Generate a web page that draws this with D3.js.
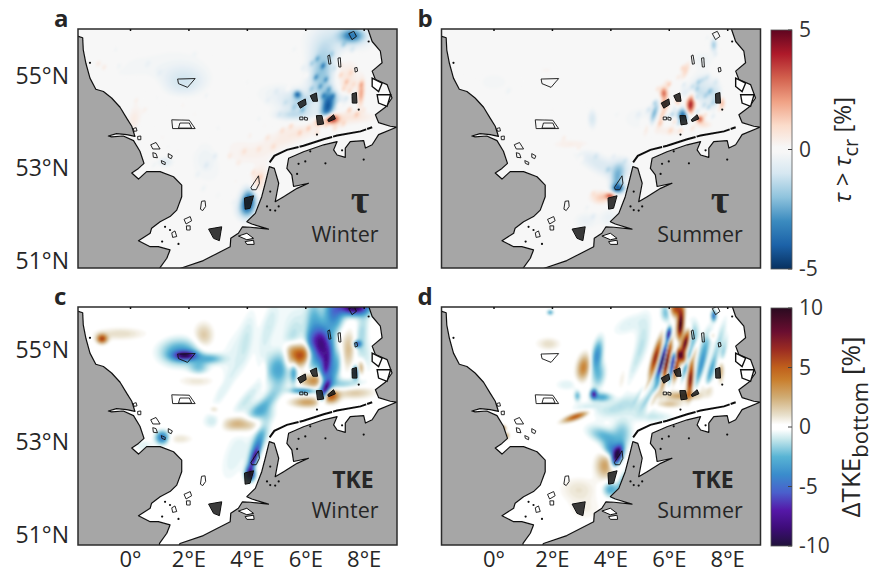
<!DOCTYPE html>
<html>
<head>
<meta charset="utf-8">
<script src="https://cdnjs.cloudflare.com/ajax/libs/d3/7.8.5/d3.min.js"></script>
<style>
  html, body { margin: 0; padding: 0; background: #fff; }
  svg { display: block; }
  text { font-family: "Open Sans", sans-serif; fill: #262626; }
</style>
</head>
<body>
<script>
var w = 892, h = 575;

// coastlines as [lon, lat]
var landUK = [[-1.9,55.87],[-1.77,55.87],[-1.62,55.84],[-1.6,55.58],[-1.51,55.29],[-1.37,54.97],[-1.17,54.73],[-0.91,54.68],[-0.63,54.54],[-0.34,54.34],[-0.11,54.1],[0.06,53.93],[0.17,53.71],[-0.11,53.75],[-0.46,53.77],[-0.74,53.72],[-0.63,53.7],[-0.23,53.72],[0.12,53.62],[0.34,53.39],[0.48,53.13],[0.29,53.02],[0.06,52.92],[0.29,52.79],[0.57,52.95],[1.03,52.95],[1.49,52.84],[1.77,52.66],[1.77,52.41],[1.6,52.12],[1.37,51.98],[1.03,51.87],[0.74,51.73],[0.69,51.62],[0.29,51.46],[0.69,51.33],[0.97,51.33],[1.37,51.26],[1.26,51.08],[1.01,50.86],[1.0,50.7],[-1.9,50.7]];
var landCont = [[1.71,50.86],[2.51,51.03],[3.43,51.33],[3.45,51.51],[3.71,51.62],[3.85,51.76],[4.12,51.75],[4.74,51.71],[4.17,51.82],[4,51.87],[4.29,52.05],[4.51,52.41],[4.63,52.7],[4.77,53.06],[4.94,53.02],[5.09,52.7],[4.97,52.3],[5.26,52.41],[5.72,52.59],[6.11,52.7],[5.6,52.63],[5.54,52.88],[5.37,53.02],[5.43,53.24],[5.94,53.38],[6.63,53.53],[7.09,53.6],[6.97,53.42],[7.09,53.31],[7.37,53.26],[7.37,53.46],[7.54,53.6],[8,53.62],[8.06,53.46],[8.29,53.53],[8.51,53.75],[9.12,53.91],[8.91,53.93],[8.51,54.01],[8.4,54.18],[8.74,54.34],[8.97,54.54],[8.8,54.83],[8.4,54.94],[8.29,55.12],[8.63,55.3],[8.57,55.55],[8.29,55.76],[8.15,56.02],[8.1,56.2],[9.4,56.2],[9.4,50.7],[1.6,50.7]];
var barrierIslands = [[4.78,53.15],[4.94,53.29],[5.37,53.42],[5.94,53.51],[6.63,53.65],[7.09,53.73],[7.89,53.82],[8.29,53.91]];
var coastIslands = [
  [[8.29,54.97],[8.63,54.86],[8.51,54.68],[8.29,54.79]],
  [[8.46,54.61],[8.92,54.61],[8.8,54.36],[8.51,54.43]]
];
var estuaries = [
  [[3.71,51.56],[4,51.62],[4.23,51.51],[4,51.48]],
  [[3.94,51.44],[4.23,51.47],[4.25,51.38],[4,51.38]]
];
var coastDots = [[6.69,53.13],[8,53.21],[7.26,53.41],[6.17,53.39],[6,53.17],[5.77,53.12],[4.8,52.52],[4.69,52.2],[4.97,52.11],[5.09,52.2],[4.8,52.12],[6.4,53.75],[7.83,54.29],[-1.37,55.3],[8.17,55.76],[1.37,51.69],[1.2,51.76],[1.1,51.44],[1.66,51.39],[5.72,52.9]];

// wind farm outlines
var windFarms = [
  [[1.63,54.95],[2.23,54.96],[1.97,54.77],[1.66,54.85]],
  [[1.43,54.07],[2.03,54.06],[2.23,53.88],[1.46,53.88]],
  [[1.66,53.89],[1.71,54],[2.03,54],[2.11,53.89]],
  [[0.71,53.53],[0.89,53.58],[1.03,53.44],[0.78,53.44]],
  [[0.11,53.88],[0.21,53.9],[0.24,53.83],[0.14,53.82]],
  [[0.26,53.71],[0.37,53.72],[0.37,53.64],[0.27,53.64]],
  [[0.78,53.36],[0.89,53.34],[0.94,53.25],[0.8,53.26]],
  [[1.31,53.34],[1.45,53.29],[1.41,53.23],[1.31,53.26]],
  [[1.07,53.19],[1.21,53.15],[1.2,53.1],[1.09,53.13]],
  [[2.45,52.31],[2.57,52.32],[2.59,52.2],[2.49,52.11],[2.41,52.14]],
  [[1.85,51.92],[2.06,51.98],[2.11,51.89],[1.92,51.82]],
  [[1.93,51.78],[2.06,51.78],[2.06,51.69],[1.94,51.69]],
  [[1.43,51.63],[1.54,51.67],[1.6,51.55],[1.46,51.53]],
  [[4.14,52.61],[4.4,52.86],[4.43,52.7],[4.32,52.56],[4.17,52.56]],
  [[6.77,55.45],[6.83,55.47],[6.88,55.28],[6.81,55.27]],
  [[7.12,55.4],[7.2,55.41],[7.22,55.21],[7.15,55.21]],
  [[7.49,55.93],[7.66,55.98],[7.75,55.87],[7.6,55.8]],
  [[7.69,55.19],[7.77,55.2],[7.79,55.12],[7.71,55.1]],
  [[5.81,54.13],[5.92,54.13],[5.92,54.07],[5.81,54.07]],
  [[5.97,54.13],[6.08,54.11],[6.07,54.06],[5.97,54.07]]
];
var denseFarms = [
  [[2.69,51.71],[3.14,51.76],[3.06,51.46],[2.86,51.51]],
  [[3.92,52.38],[4.23,52.43],[4.11,52.16],[3.94,52.14]],
  [[7.6,54.63],[7.75,54.66],[7.77,54.43],[7.61,54.43]],
  [[5.74,54.43],[6,54.52],[6.03,54.4],[5.83,54.32]],
  [[6.17,54.59],[6.38,54.65],[6.42,54.47],[6.26,54.47]],
  [[6.38,54.16],[6.57,54.16],[6.63,53.98],[6.42,53.96]],
  [[6.77,54.07],[6.97,54.18],[7.03,54.09],[6.8,54.03]]
];

// anomaly patches: [lon, lat, along, across, angle, percent]
var tauWinter = [
  [6.55,55.1,0.45,0.2,85,-2],[7.6,55.9,0.2,0.12,0,-3],[7.1,55.8,0.5,0.3,0,-0.8],[6.74,54.32,0.25,0.1,80,-3.5],
  [6.17,54.36,0.4,0.2,0,-1],[5.83,54.5,0.3,0.15,0,-0.7],[5.72,54.63,0.06,0.06,0,-3],[7.09,54.54,0.25,0.15,0,-1],
  [5.49,54.18,0.25,0.08,0,-1],[7.9,54.65,0.2,0.05,85,2],[7.4,54.9,0.5,0.2,85,0.7],
  [6.4,54.43,0.15,0.15,0,1.2],[6.86,54.1,0.12,0.08,0,4.5],[6.5,54.03,0.1,0.08,0,2],[7.66,54.14,0.35,0.1,0,0.6],
  [5.94,53.85,0.5,0.15,10,0.4],[5.03,53.57,0.5,0.15,25,0.4],[3.66,53.46,0.4,0.3,0,0.4],[2.63,53.28,0.3,0.25,90,-0.4],
  [4.06,52.34,0.2,0.12,80,-4.5],[3.94,52.12,0.15,0.15,0,-1.2],[4.29,52.63,0.3,0.12,70,1.2],[1.83,54.9,0.35,0.25,0,-1.1],
  [-0.34,55.15,0.6,0.2,0,-0.3],[-0.91,55.26,0.3,0.12,0,0.4],[0.12,54.07,0.25,0.1,80,0.5],[1.2,53.17,0.12,0.08,0,-0.8],
  [0.3,54.8,0.5,0.2,0,0.2],[1.37,55.45,0.8,0.4,0,-0.2],[5.03,54.65,0.4,0.2,0,-0.4],[1.5,54.45,0.6,0.15,20,0.2],
  [2.9,52.9,0.5,0.4,0,-0.15],[2.2,52.2,0.5,0.3,0,-0.12],[3.7,53.8,0.5,0.3,0,-0.15]
];
var tauSummer = [
  [6.73,54.4,0.18,0.07,80,4.5],[5.82,54.65,0.1,0.06,90,3],[5.83,54.43,0.06,0.06,0,2],[6.5,54.18,0.12,0.1,90,-4],
  [5.47,54.2,0.2,0.05,70,-2.5],[5.78,54.2,0.2,0.05,70,1.5],[5.31,54,0.2,0.05,70,1.2],[7.13,54.72,0.25,0.2,90,-1],
  [7.6,54.58,0.2,0.1,90,-1],[6.68,54.65,0.2,0.1,0,-0.7],[7.8,54.45,0.1,0.05,90,2],[6.3,54.5,0.12,0.05,90,1.5],
  [7.05,54.1,0.06,0.06,0,3],[7.2,53.98,0.12,0.06,0,0.8],[6.57,55.15,0.15,0.05,70,1.2],[7.53,55.7,0.1,0.05,90,-1.8],
  [7.15,55.4,0.2,0.15,0,-0.4],[3.37,54.1,0.15,0.07,90,-1],[2.69,53.55,0.3,0.08,0,0.6],[3.59,53.13,0.4,0.15,-30,-0.9],
  [4.39,53.06,0.2,0.15,0,-0.7],[4.22,52.78,0.25,0.1,80,-2],[4.27,52.6,0.1,0.07,0,-3],[4,52.44,0.08,0.05,0,3.5],
  [3.66,52.4,0.15,0.1,0,1.3],[3.14,51.9,0.2,0.15,0,-0.5],[3.94,51.97,0.15,0.15,0,-0.5],[0,54.9,0.5,0.3,0,-0.25],
  [1.78,55.15,0.25,0.1,0,0.25],[0.3,53.3,0.06,0.03,90,1.5],[5.1,54.1,0.4,0.25,0,-0.35],[5.94,53.85,0.3,0.1,0,0.5]
];
var tkeWinter = [
  [6.51,55.14,0.3,0.16,90,-9],[6.69,54.64,0.35,0.08,80,-5.5],[6.69,54.2,0.18,0.06,70,-7],[7.66,55.97,0.22,0.12,0,-10],
  [6.97,55.86,0.3,0.15,90,-4.5],[6.29,55.79,0.3,0.12,90,-2],[7,54.64,0.4,0.1,75,-3],[6.17,55.07,0.3,0.08,90,-2.5],
  [5.83,54.93,0.25,0.15,25,6],[5.49,55.07,0.12,0.12,0,2.5],[6.34,54.39,0.22,0.12,0,4],[6.86,54.06,0.12,0.1,0,6],
  [6.06,53.92,0.25,0.08,0,3],[7.43,55.07,0.3,0.15,90,2.5],[7.89,54.67,0.12,0.06,90,3],[7.66,54.14,0.3,0.1,0,2],
  [7.77,55.18,0.06,0.05,0,-5],[7.71,54.57,0.1,0.05,90,-5],[5.03,54.67,0.25,0.2,90,-2.5],[5.94,54.17,0.2,0.05,0,-4],
  [5.6,54.57,0.2,0.06,90,-3],[4.57,54.57,0.18,0.05,90,1],[4.46,53.7,0.2,0.15,0,-1.5],[3.77,53.45,0.3,0.12,0,3],
  [2.86,53.49,0.15,0.12,0,-1.2],[4.23,52.69,0.2,0.05,70,-6],[4.11,52.37,0.1,0.07,90,-8],[4.29,52.9,0.3,0.08,70,-3],
  [4.51,53.27,0.3,0.12,70,-1.5],[1.89,54.93,0.18,0.07,0,-7],[1.7,55,0.3,0.2,0,-3.5],[2.74,54.86,0.2,0.08,0,-2.5],
  [2.34,54.67,0.15,0.12,0,-2],[2.51,55.36,0.2,0.15,90,1.8],[-0.97,55.29,0.08,0.07,0,6],[-0.34,55.4,0.4,0.1,0,1.2],
  [2.29,54.39,0.3,0.1,0,1],[2.86,53.77,0.08,0.06,0,1.5],[1.09,53.16,0.1,0.1,0,-5],[1.71,53.13,0.2,0.08,0,1],
  [0.46,52.98,0.15,0.1,0,-0.8],[2.51,52.04,0.2,0.15,0,0.4],[5.6,55.58,0.5,0.3,90,-0.7],[3.5,55,0.5,0.2,70,-0.6],
  [8,54.9,0.3,0.15,90,-1],[4.8,54.05,0.3,0.1,50,-1],[4,55.3,0.5,0.12,80,-0.8],[4.7,55.5,0.5,0.12,75,-0.9],
  [5.3,54.9,0.5,0.12,70,-1.3],[7.9,55.4,0.4,0.1,80,-1.5],[7.3,54.3,0.3,0.1,0,-2],[3.2,54.2,0.5,0.1,60,-0.7],
  [4,54,0.4,0.1,50,-1],[3.6,52.8,0.5,0.2,70,-0.8],[4.5,53.8,0.4,0.1,40,-1.2]
];
var tkeSummer = [
  [6.24,55.94,0.12,0.1,90,6],[6.39,55.6,0.22,0.05,85,10],[6.56,55.21,0.2,0.05,75,9],[6.39,54.93,0.15,0.07,-50,6],
  [6.22,54.67,0.2,0.05,80,7],[5.53,54.89,0.3,0.05,75,7],[5.78,54.85,0.3,0.035,75,-10],[5.91,54.78,0.35,0.04,80,9],
  [6.13,54.75,0.25,0.035,80,-9],[6.73,54.42,0.25,0.045,85,8],[5.99,55.4,0.1,0.04,80,-7],[5.45,54.42,0.3,0.04,60,-2],
  [5.24,54.28,0.25,0.04,60,2.5],[5.7,54.35,0.25,0.04,65,-2.5],[5.53,54.06,0.25,0.04,65,2],[6.81,55.36,0.25,0.1,90,-2.2],
  [5.9,55.86,0.15,0.08,90,-2.5],[7.53,55.79,0.08,0.04,90,-5],[7.2,55.07,0.35,0.08,75,-2.2],[7.07,54.64,0.3,0.05,75,-2.8],
  [7.42,54.57,0.25,0.05,75,-2.8],[7.76,54.64,0.2,0.05,90,3],[7.47,55.36,0.06,0.06,0,1.5],[7.3,54.2,0.1,0.1,0,1.5],
  [6.45,54.06,0.3,0.07,0,3],[6,53.88,0.2,0.06,0,2],[3.07,54.67,0.2,0.1,80,4],[3.53,54.93,0.25,0.08,80,-4],
  [3.42,54.1,0.07,0.05,90,-7],[3.7,54.03,0.15,0.07,0,-3],[2.86,54.06,0.08,0.05,90,-2.5],[1.88,55.18,0.18,0.1,0,1.2],
  [1.93,55.86,0.05,0.04,0,-3],[2.8,53.61,0.2,0.05,20,5.5],[3.76,53.2,0.25,0.12,-20,-2.5],[4.39,53.27,0.2,0.15,90,-2],
  [4.22,52.77,0.16,0.07,70,-10],[4.05,52.9,0.15,0.12,-40,-4],[3.82,52.55,0.2,0.15,90,3],[3.99,52.04,0.12,0.12,60,-3],
  [4.38,52.2,0.2,0.06,70,-2],[2.9,52.04,0.3,0.2,0,1],[3.14,51.6,0.3,0.2,0,0.6],[5,53.8,0.3,0.2,0,-1],
  [0.33,53.36,0.04,0.04,0,4],[0.46,53.2,0.05,0.03,90,3],[5.1,55.3,0.4,0.12,80,-1],[4.6,55.6,0.3,0.15,30,-0.8],
  [4.8,54.7,0.4,0.08,70,-0.8],[7.7,55.2,0.4,0.06,75,-1.5],[7.8,54.9,0.3,0.05,75,-2],[4.4,54.4,0.2,0.06,80,0.8],
  [4.2,53.8,0.35,0.12,30,-1],[5.6,53.6,0.3,0.08,0,-0.8],[0.8,55.3,0.3,0.15,0,0.3],[2.5,54.3,0.2,0.1,0,-0.8],
  [3.3,53.8,0.3,0.1,0,-1],[3.6,54.5,0.2,0.1,80,-2.2],[6.6,54.75,0.25,0.04,75,-3.5],[5.1,54.2,0.25,0.035,60,-1.5],
  [5.35,54.1,0.25,0.035,60,-1.5],[6.9,55,0.2,0.04,75,2]
];

// finer speckle of the bed stress panels: [lon, lat, percent]
var tauWinterSpeckle = [
  [6.2,55.3,-0.9],[6.4,55.4,-1.2],[6.6,55.25,-1.6],[6.35,55,-1.5],[6.7,54.95,-1.4],[6.5,54.8,-1.2],[6.8,54.75,-1.1],[6.2,54.75,-0.9],
  [6.6,54.6,-1.3],[6.95,54.6,-1.2],[6.3,54.55,-0.8],[7,55.2,-0.7],[6.9,55.5,-0.8],[7.3,55.7,-0.9],[7.6,55.6,-0.7],[5.9,54.3,-1.1],
  [5.6,54.35,-0.8],[5.3,54.45,-0.5],[7.2,55.05,0.9],[7.4,54.9,1],[7.55,55.1,0.7],[7.3,54.75,0.9],[7.5,54.7,0.8],[7.2,55.25,0.6],
  [7.65,54.85,0.6],[7.4,54.55,-0.8],[7.15,54.4,1],[7.5,54.3,1.2],[7.75,54.2,0.9],[8,54.3,0.5],[7.9,54.85,0.9],[5.2,53.85,0.7],
  [5.5,53.95,0.9],[5.8,53.8,0.8],[6.1,53.9,1],[6.4,53.8,0.7],[6.7,53.95,0.9],[7,53.9,0.7],[7.3,54,0.8],[4.7,53.7,0.6],
  [4.9,53.5,0.6],[4.4,53.45,0.5],[3.9,53.4,0.6],[3.4,53.3,0.5],[3.7,53.15,0.4],[4.1,53,-0.4],[4.2,52.95,0.7],[4.45,52.85,0.6],
  [-0.9,55.2,0.5],[-1.1,55.3,0.4],[-0.4,55.25,-0.3],[0.2,54.5,0.3],[0.5,54.3,0.3],[0.9,54.55,-0.3],[1.2,54.3,-0.3],[1.8,54.4,0.3],
  [2.6,54.6,-0.3],[3,53.9,-0.3],[2.2,53.5,0.3],[1.6,53.4,0.3],[0.3,53.5,-0.3],[0.8,53.1,-0.4],[2.6,53.1,-0.5],[2.9,53.3,-0.5],
  [2.3,52.9,-0.3],[3.5,52.3,-0.2],[0.6,55.3,-0.3],[2.2,55.5,-0.2],[5,54.7,-0.4],[4.7,54.5,-0.3],[5.4,54.75,0.4],[6.05,55.05,0.5],
  [3.4,55.2,-0.2],[4,54.9,-0.25],[3.1,54.7,0.2],[2.2,54.2,0.3],[2.8,53.7,0.3],[3.2,53.6,-0.3],[1.1,53.7,0.3],[0.7,54,-0.25],
  [-0.5,55.6,-0.3],[0.1,55.5,0.25],[1,55.1,-0.3],[1.3,53.5,-0.3],[2,53.1,0.3],[2.5,52.6,-0.3],[3.2,52.9,0.3],[3.6,52.75,0.4],
  [4.4,54.1,-0.35],[4.1,53.75,0.35],[5.1,54.2,-0.4],[4.6,53.95,0.3],[5.6,55.6,-0.3],[5.9,55.2,-0.4],[1.6,52.9,-0.2],[3,52.45,-0.2]
];
var tauSummerSpeckle = [
  [5.5,54.45,-1.2],[5.3,54.3,-0.9],[5.7,54,0.8],[5.9,54.15,-0.9],[6.1,54.2,-1.4],[6.3,54,-0.9],[6.05,53.85,0.8],[6.4,53.85,0.7],
  [6.8,53.9,0.7],[6.95,54.25,-1.1],[7.2,54.4,-1],[7.4,54.7,-1.2],[7,54.9,-1.1],[7.3,55,-0.8],[7.6,54.9,-0.6],[6.8,54.8,-0.9],
  [6.5,54.85,-0.7],[7.7,54.3,0.7],[7.5,54.15,-0.6],[7.25,54.2,0.8],[6.3,55,0.6],[6.45,55.2,0.9],[6.2,54.35,-0.7],[5.6,54.75,0.7],
  [5.9,54.9,0.5],[5.1,54.05,0.5],[4.95,54.2,-0.4],[7.6,55.5,-0.5],[7.3,55.85,-0.4],[7.75,55.6,0.3],[3.5,53.3,-0.6],[3.9,53,-0.7],
  [4.5,53.2,-0.6],[4.1,53.3,-0.4],[2.4,53.7,0.5],[2.9,53.45,0.5],[3,53.25,0.4],[3.4,52.5,0.5],[3.2,52.2,-0.4],[3.4,52,-0.5],
  [4.3,52.05,-0.5],[2,54.3,0.25],[0.5,54.7,-0.3],[1,54.35,0.25],[-0.7,55.5,0.25],[0.9,53.8,-0.2],[3,54.5,-0.2],[6.9,54.55,-1.3],
  [7.35,54.35,-1.2],[6.2,54.05,1.2],[6,54.85,1.4],[7.15,54.95,-0.7],[6.95,54.75,-0.9],[7.25,54.6,-0.8],[7.5,54.45,-0.8],
  [1.5,54.8,-0.2],[1.9,53.9,-0.2],[3.6,54.6,-0.25],[4.2,54.2,-0.25],[3.1,52.9,0.25],[2.6,53,-0.2],[1.3,53.2,0.2],[-0.5,55,0.2]
];

// colormaps, sampled from the colour bars
var tauStopValues = [-5,-4,-3,-2,-1,-0.1,0.1,1,2,3,4,5];
var tauStopColors = ["#08305f","#1c62a8","#3b8bbf","#8fc3dd","#d6e7f1","#f7f7f7","#f7f7f7","#fbdccb","#f0a285","#d2604d","#ae1a2a","#5f0520"];
var tkeStopValues = [-10,-8.5,-7,-5.5,-4,-2.5,-1,-0.2,0.2,1,2.5,4,5,6.5,8,10];
var tkeStopColors = ["#20123a","#3d0c78","#5518a8","#4a60cc","#3a8ccc","#58b4d4","#c8e8ec","#ffffff","#ffffff","#e8e0cc","#d0ac74","#c97e2c","#c0601c","#9c2c22","#6a0e30","#2a0a20"];

var latTicks = [51, 53, 55];
var lonTicks = [0, 2, 4, 6, 8];
var tauBarTicks = [-5, 0, 5];
var tkeBarTicks = [-10, -5, 0, 5, 10];

var lonDomain = [-1.78, 9.14], latDomain = [50.87, 56.03];
var gridStep = 0.025, gridLon0 = -1.9, gridLat0 = 56.1;
var nx = Math.round(11.2 / gridStep), ny = Math.round(5.3 / gridStep);

var tauColor = d3.scaleLinear().domain(tauStopValues).range(tauStopColors).clamp(true);
var tkeColor = d3.scaleLinear().domain(tkeStopValues).range(tkeStopColors).clamp(true);
var tauLevels = d3.range(0.1, 5, 0.12);
var tkeLevels = d3.range(0.2, 10, 0.2);

var panels = [
  { id: "a", blobs: tauWinter, speckle: tauWinterSpeckle, color: tauColor, levels: tauLevels, bg: "#f7f7f7", xr: [78, 397], dy: 0, top: 29, bottom: 268, big: "τ", season: "Winter", bigX: 360, seasonX: 345 },
  { id: "b", blobs: tauSummer, speckle: tauSummerSpeckle, color: tauColor, levels: tauLevels, bg: "#f7f7f7", xr: [441.5, 760.5], dy: 0, top: 29, bottom: 268, big: "τ", season: "Summer", bigX: 720, seasonX: 700 },
  { id: "c", blobs: tkeWinter, speckle: [], color: tkeColor, levels: tkeLevels, bg: "#ffffff", xr: [78, 397], dy: 275, top: 307, bottom: 545, big: "TKE", season: "Winter", bigX: 353, seasonX: 345 },
  { id: "d", blobs: tkeSummer, speckle: [], color: tkeColor, levels: tkeLevels, bg: "#ffffff", xr: [441.5, 760.5], dy: 275, top: 307, bottom: 545, big: "TKE", season: "Summer", bigX: 713, seasonX: 700 }
];

var svg = d3.select("body").append("svg").attr("width", w).attr("height", h);
var defs = svg.append("defs");
defs.append("filter").attr("id", "soft").append("feGaussianBlur").attr("stdDeviation", 0.8);
defs.append("filter").attr("id", "softer").append("feGaussianBlur").attr("stdDeviation", 0.35);

// sum the patches on a lon/lat grid
function buildField(blobs, speckle) {
  var values = new Float64Array(nx * ny);
  // patch sizes above are half widths, the gaussian needs them a bit wider
  var rows = blobs.map(function (b) {
    return [b[0], b[1], b[2] * 1.5, b[3] * 1.5, b[4], b[5]];
  }).concat(speckle.map(function (s) {
    return [s[0], s[1], 0.08, 0.05, 60, s[2]];
  }));
  rows.forEach(function (b) {
    var rad = (b[4] * Math.PI) / 180, c = Math.cos(rad), s = Math.sin(rad);
    for (var j = 0; j < ny; j++) {
      var dy = (gridLat0 - j * gridStep - b[1]) * 1.6;
      if (Math.abs(dy) > 3) continue;
      for (var i = 0; i < nx; i++) {
        var dx = gridLon0 + i * gridStep - b[0];
        if (Math.abs(dx) > 3) continue;
        var u = (dx * c + dy * s) / b[2], v = (-dx * s + dy * c) / b[3];
        values[j * nx + i] += b[5] * Math.exp(-0.5 * (u * u + v * v));
      }
    }
  });
  return values;
}

panels.forEach(function (p) {
  var x = d3.scaleLinear().domain(lonDomain).range(p.xr);
  var y = d3.scaleLinear().domain(latDomain).range([268 + p.dy, 29 + p.dy]);
  var frameW = p.xr[1] - p.xr[0];
  var line = d3.line().x(function (d) { return x(d[0]); }).y(function (d) { return y(d[1]); });
  var ring = d3.line().x(function (d) { return x(d[0]); }).y(function (d) { return y(d[1]); }).curve(d3.curveLinearClosed);

  defs.append("clipPath").attr("id", "clip-" + p.id).append("rect")
    .attr("x", p.xr[0]).attr("y", p.top).attr("width", frameW).attr("height", p.bottom - p.top);

  var map = svg.append("g").attr("clip-path", "url(#clip-" + p.id + ")");
  map.append("rect").attr("x", p.xr[0]).attr("y", p.top).attr("width", frameW).attr("height", p.bottom - p.top).attr("fill", p.bg);

  // field drawn as filled contours, positive and negative side separately
  var values = buildField(p.blobs, p.speckle);
  var project = d3.geoPath(d3.geoTransform({
    point: function (gx, gy) {
      this.stream.point(x(gridLon0 + gx * gridStep), y(gridLat0 - gy * gridStep));
    }
  }));
  var field = map.append("g").attr("filter", "url(#soft)");
  [1, -1].forEach(function (sign) {
    var signed = Array.from(values, function (v) { return v * sign; });
    var shapes = d3.contours().size([nx, ny]).thresholds(p.levels)(signed);
    field.selectAll(null).data(shapes).enter().append("path")
      .attr("d", project)
      .attr("fill", function (d) { return p.color(d.value * sign); });
  });

  // land and coast
  var coast = map.append("g").attr("filter", "url(#softer)");
  [landUK, landCont].forEach(function (land) {
    coast.append("path").attr("d", ring(land)).attr("fill", "#a6a6a6").attr("stroke", "#111").attr("stroke-width", 1.2).attr("stroke-linejoin", "round");
  });
  coast.selectAll(".estuary").data(estuaries).enter().append("path").attr("class", "estuary")
    .attr("d", ring).attr("fill", "#fff").attr("stroke", "#111").attr("stroke-width", 1);
  coast.selectAll(".island").data(coastIslands).enter().append("path").attr("class", "island")
    .attr("d", ring).attr("fill", "#fff").attr("stroke", "#111").attr("stroke-width", 1.4);
  coast.append("path").attr("d", line(barrierIslands)).attr("fill", "none").attr("stroke", "#111").attr("stroke-width", 2).attr("stroke-dasharray", "34 1");
  coast.selectAll(".dot").data(coastDots).enter().append("circle").attr("class", "dot")
    .attr("cx", function (d) { return x(d[0]); }).attr("cy", function (d) { return y(d[1]); }).attr("r", 1.1).attr("fill", "#111");

  // wind farms
  coast.selectAll(".farm").data(windFarms).enter().append("path").attr("class", "farm")
    .attr("d", ring).attr("fill", "none").attr("stroke", "#111").attr("stroke-width", 0.9);
  coast.selectAll(".dense").data(denseFarms).enter().append("path").attr("class", "dense")
    .attr("d", ring).attr("fill", "#1a1a1a").attr("fill-opacity", 0.85).attr("stroke", "#111").attr("stroke-width", 1);

  // frame and small top ticks
  svg.append("rect").attr("x", p.xr[0]).attr("y", p.top).attr("width", frameW).attr("height", p.bottom - p.top)
    .attr("fill", "none").attr("stroke", "#2b2b2b").attr("stroke-width", 1.5);
  svg.append("g").attr("transform", "translate(0," + p.top + ")")
    .call(d3.axisBottom(x).tickValues(lonTicks).tickSize(2).tickFormat(""))
    .call(function (g) { g.select(".domain").remove(); g.selectAll("line").attr("stroke", "#111").attr("stroke-width", 1.5); });

  // lat labels on the left column, lon labels on the bottom row
  if (p.id === "a" || p.id === "c") {
    svg.append("g").attr("transform", "translate(" + p.xr[0] + "," + (p.id === "a" ? -1 : -2) + ")")
      .call(d3.axisLeft(y).tickValues(latTicks).tickSize(0).tickPadding(9).tickFormat(function (d) { return d + "°N"; }))
      .call(function (g) { g.select(".domain").remove(); g.selectAll("text").style("font-size", "23px").style("font-family", "Open Sans"); });
  }
  if (p.id === "c" || p.id === "d") {
    svg.append("g").attr("transform", "translate(0,550)")
      .call(d3.axisBottom(x).tickValues(lonTicks).tickSize(0).tickPadding(1).tickFormat(function (d) { return d === 0 ? "0°" : d + "°E"; }))
      .call(function (g) { g.select(".domain").remove(); g.selectAll("text").style("font-size", "22px").style("font-family", "Open Sans"); });
  }

  // panel letter and annotations
  svg.append("text").attr("x", p.xr[0] - 24).attr("y", p.top - 2).attr("font-size", 24).attr("font-weight", 700).attr("fill", "#000").text(p.id);
  svg.append("text").attr("x", p.bigX).attr("y", p.dy === 0 ? 213 : 488).attr("text-anchor", "middle")
    .attr("font-size", p.dy === 0 ? 40 : 23).attr("font-weight", 700).attr("fill", "#000")
    .style("font-family", p.dy === 0 ? "'Liberation Serif'" : "'Open Sans'").text(p.big);
  svg.append("text").attr("x", p.seasonX).attr("y", p.dy === 0 ? 242 : 518).attr("text-anchor", "middle").attr("font-size", 21.5).attr("fill", "#111").text(p.season);
});

// colour bars
function colorBar(id, stopValues, stopColors, top, bottom, ticks) {
  var lo = stopValues[0], hi = stopValues[stopValues.length - 1];
  var grad = defs.append("linearGradient").attr("id", id).attr("x1", 0).attr("x2", 0).attr("y1", 1).attr("y2", 0);
  grad.selectAll("stop").data(stopValues).enter().append("stop")
    .attr("offset", function (d) { return (d - lo) / (hi - lo); })
    .attr("stop-color", function (d, i) { return stopColors[i]; });
  svg.append("rect").attr("x", 771).attr("y", top).attr("width", 21).attr("height", bottom - top)
    .attr("fill", "url(#" + id + ")").attr("stroke", "#555").attr("stroke-width", 0.8);
  var scale = d3.scaleLinear().domain([lo, hi]).range([bottom, top]);
  svg.append("g").attr("transform", "translate(792,0)")
    .call(d3.axisRight(scale).tickValues(ticks).tickSize(0).tickPadding(7).tickFormat(function (d) { return d; }))
    .call(function (g) { g.select(".domain").remove(); g.selectAll("text").style("font-size", "21px").style("font-family", "Open Sans").style("fill", "#333"); });
  svg.append("g").selectAll("line").data(ticks).enter().append("line")
    .attr("x1", 788).attr("x2", 792)
    .attr("y1", function (d) { return scale(d); }).attr("y2", function (d) { return scale(d); })
    .attr("stroke", "#444");
}
colorBar("tauBar", tauStopValues, tauStopColors, 30, 269, tauBarTicks);
colorBar("tkeBar", tkeStopValues, tkeStopColors, 308, 546, tkeBarTicks);

// colour bar titles
var tauTitle = svg.append("text").attr("transform", "translate(851,150) rotate(-90)").attr("text-anchor", "middle").attr("font-size", 24).attr("fill", "#111");
tauTitle.append("tspan").attr("font-style", "italic").text("τ > τ");
tauTitle.append("tspan").attr("dy", 7).attr("font-size", 20).text("cr");
tauTitle.append("tspan").attr("dy", -7).text("  [%]");

var tkeTitle = svg.append("text").attr("transform", "translate(860,427) rotate(-90)").attr("text-anchor", "middle").attr("font-size", 26).attr("fill", "#111");
tkeTitle.append("tspan").text("ΔTKE");
tkeTitle.append("tspan").attr("dy", 8).attr("font-size", 22).text("bottom");
tkeTitle.append("tspan").attr("dy", -8).text(" [%]");
</script>
</body>
</html>
